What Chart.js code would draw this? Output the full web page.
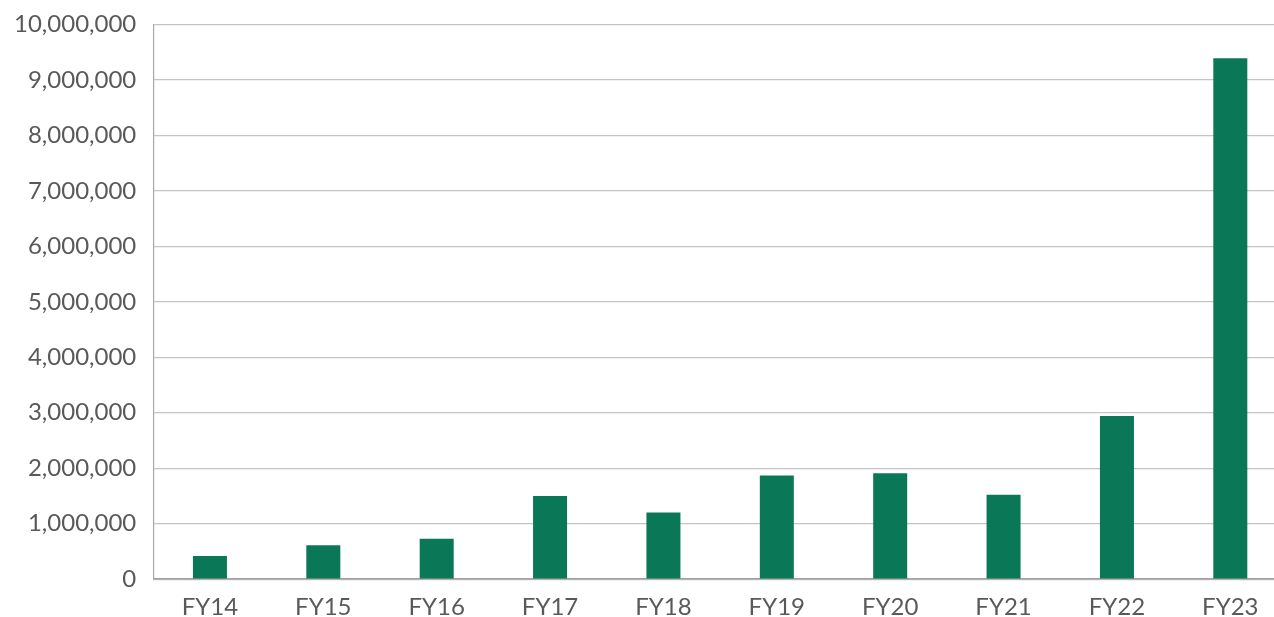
<!DOCTYPE html>
<html>
<head>
<meta charset="utf-8">
<script src="https://cdn.jsdelivr.net/npm/chart.js@4"></script>
<style>
  html, body { margin: 0; padding: 0; background: #fff; overflow: hidden; }
  #wrap { position: absolute; left: -3px; top: -7px; width: 1290px; height: 643px; }
</style>
</head>
<body>
<div id="wrap"><canvas id="chart"></canvas></div>
<script>
const years = ['FY14', 'FY15', 'FY16', 'FY17', 'FY18', 'FY19', 'FY20', 'FY21', 'FY22', 'FY23'];
const amounts = [420000, 610000, 730000, 1500000, 1200000, 1870000, 1910000, 1520000, 2940000, 9390000];
const yMax = 10000000;
const yStep = 1000000;

const axisFont = { family: 'Lato', size: 24 };
const textColor = '#595959';

new Chart(document.getElementById('chart').getContext('2d'), {
  type: 'bar',
  data: {
    labels: years,
    datasets: [{
      data: amounts,
      backgroundColor: '#0a7857',
      barPercentage: 0.3,
      categoryPercentage: 1
    }]
  },
  options: {
    responsive: true,
    maintainAspectRatio: false,
    animation: false,
    layout: { padding: { top: 4, left: 0, right: 0, bottom: 0 } },
    plugins: {
      legend: { display: false },
      tooltip: { enabled: false }
    },
    scales: {
      x: {
        grid: { display: false, drawTicks: false },
        border: { color: '#a0a0a0', width: 1.5 },
        ticks: { color: textColor, font: axisFont, padding: 14 }
      },
      y: {
        min: 0,
        max: yMax,
        grid: { color: '#c4c4c4', lineWidth: 1.2, drawTicks: false },
        border: { color: '#a8a8a8', width: 1.2 },
        ticks: {
          stepSize: yStep,
          color: textColor,
          font: axisFont,
          padding: 17,
          callback: v => v.toLocaleString('en-US')
        }
      }
    }
  }
});
</script>
</body>
</html>
